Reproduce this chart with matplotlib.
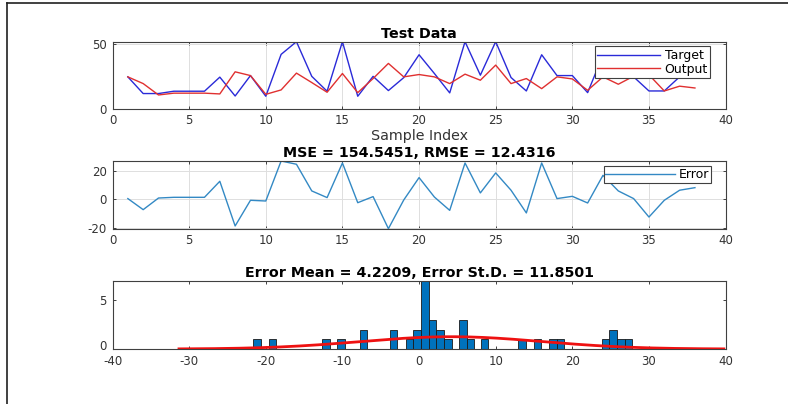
import numpy as np
import matplotlib
matplotlib.use("Agg")
import matplotlib.pyplot as plt
from matplotlib.lines import Line2D
from matplotlib.transforms import ScaledTranslation

plt.rcParams['font.family'] = ['DejaVu Sans']
plt.rcParams['axes.unicode_minus'] = False

# values
sample_idx = np.arange(1, 39)
target = [24.6, 11.7, 11.7, 13.5, 13.5, 13.5, 24.4, 9.8, 25.6, 9.6,
          42.0, 51.8, 25.0, 13.5, 51.8, 9.6, 25.0, 14.0, 24.0, 41.7,
          27.2, 12.2, 51.8, 25.9, 51.8, 24.1, 13.7, 41.7, 25.6, 25.6,
          12.4, 41.5, 25.4, 24.6, 13.7, 13.7, 24.6, 24.2]
output = [24.6, 19.4, 10.6, 12.0, 12.0, 12.0, 11.4, 28.5, 25.6, 11.1,
          14.5, 27.5, 20.2, 12.7, 27.2, 12.4, 23.3, 35.0, 24.6, 26.4,
          24.6, 19.4, 26.7, 22.0, 33.7, 19.4, 23.3, 15.5, 24.6, 23.0,
          14.2, 24.6, 18.9, 25.1, 26.2, 13.7, 17.4, 16.0]
error = [0.5, -7.3, 0.9, 1.4, 1.4, 1.4, 12.7, -18.8, -0.7, -1.2,
         27.0, 24.7, 5.9, 1.2, 25.6, -2.4, 1.9, -20.7, -0.5, 15.3,
         1.6, -7.8, 25.6, 4.5, 18.6, 6.4, -9.6, 25.6, 0.5, 2.1,
         -2.6, 16.9, 5.9, 0.5, -12.5, -0.7, 6.4, 8.2]

mse_val = 154.5451
rmse_val = 12.4316
err_mean = 4.2209
err_std = 11.8501

# histogram bins (centres and counts) as seen in the picture
hist_centers = [-21.15, -19.1, -12.15, -10.2, -7.26, -3.33, -1.24, -0.24,
                0.76, 1.76, 2.76, 3.76, 5.7, 6.7, 8.54, 13.46, 15.46,
                17.46, 18.46, 24.33, 25.33, 26.33, 27.33]
hist_counts = [1, 1, 1, 1, 2, 2, 1, 2, 7, 3, 2, 1, 3, 1, 1, 1, 1, 1, 1, 1, 2, 1, 1]
bin_width = 0.99

axis_col = '#404040'
tick_col = '#333333'


def style_axes(ax, grid=True):
    for s in ax.spines.values():
        s.set_color(axis_col)
        s.set_linewidth(0.8)
    ax.tick_params(direction='in', top=True, right=True, length=2.5, width=0.7,
                   colors=axis_col, labelcolor=tick_col, labelsize=8.5, pad=4)
    if grid:
        ax.grid(True, color='#dedede', linewidth=0.7)
        ax.set_axisbelow(True)


fig = plt.figure(figsize=(7.88, 4.04), dpi=100)

# outer frame of the screenshot (left and top only)
fig.add_artist(Line2D([7.3 / 788, 1.0], [1 - 2.7 / 404, 1 - 2.7 / 404],
                      transform=fig.transFigure, color='#202020', linewidth=1.2))
fig.add_artist(Line2D([7.3 / 788, 7.3 / 788], [0.0, 1 - 2.7 / 404],
                      transform=fig.transFigure, color='#202020', linewidth=1.2))

# Test data
ax1 = fig.add_axes([0.1428, 0.731, 0.778, 0.1658])
ax1.plot(sample_idx, target, color='#2a2ad8', linewidth=1.0, label='Target')
ax1.plot(sample_idx, output, color='#e03030', linewidth=1.0, label='Output')
ax1.set_xlim(0, 40)
ax1.set_ylim(0, max(target))
ax1.set_xticks(np.arange(0, 41, 5))
ax1.set_yticks([0, 50])
style_axes(ax1)
ax1.set_title('Test Data', fontsize=10.3, fontweight='bold', pad=3)
ax1.set_xlabel('Sample Index', fontsize=10.3, color=tick_col, labelpad=1)
leg = ax1.legend(loc='upper right', bbox_to_anchor=(0.975, 0.93), borderaxespad=0,
                 fontsize=9, fancybox=False, framealpha=1, edgecolor=axis_col,
                 handlelength=5.0, handletextpad=0.4, borderpad=0.2, labelspacing=0.05)
leg.get_frame().set_linewidth(0.8)

# Error
ax2 = fig.add_axes([0.1428, 0.434, 0.778, 0.1675])
ax2.plot(sample_idx, error, color='#3389c4', linewidth=1.0, label='Error')
ax2.set_xlim(0, 40)
ax2.set_ylim(min(error), max(error))
ax2.set_xticks(np.arange(0, 41, 5))
ax2.set_yticks([-20, 0, 20])
style_axes(ax2)
ax2.set_title(f'MSE = {mse_val:.4f}, RMSE = {rmse_val:.4f}',
              fontsize=10.3, fontweight='bold', pad=3)
leg2 = ax2.legend(loc='upper right', bbox_to_anchor=(0.977, 0.926), borderaxespad=0,
                  fontsize=9, fancybox=False, framealpha=1, edgecolor=axis_col,
                  handlelength=5.6, handletextpad=0.3, borderpad=0.15)
leg2.get_frame().set_linewidth(0.8)

# Error histogram with fitted normal
ax3 = fig.add_axes([0.1428, 0.1361, 0.778, 0.1683])
ax3.bar(hist_centers, hist_counts, width=bin_width, color='#0072BD',
        edgecolor='#1a1a1a', linewidth=0.6, zorder=2)
xs = np.linspace(err_mean - 3 * err_std, err_mean + 3 * err_std, 200)
ys = len(error) * bin_width * np.exp(-0.5 * ((xs - err_mean) / err_std) ** 2) / (err_std * np.sqrt(2 * np.pi))
ax3.plot(xs, ys, color='#ee1111', linewidth=2.0, zorder=3)
ax3.set_xlim(-40, 40)
ax3.set_ylim(0, max(hist_counts))
ax3.set_xticks(np.arange(-40, 41, 10))
ax3.set_yticks([0, 5])
style_axes(ax3, grid=False)
ax3.set_title(f'Error Mean = {err_mean:.4f}, Error St.D. = {err_std:.4f}',
              fontsize=10.3, fontweight='bold', pad=3)
# lift the "0" y label a little so it clears the "-40" below it
zero_lbl = ax3.get_yticklabels()[0]
zero_lbl.set_transform(zero_lbl.get_transform() + ScaledTranslation(0, 3 / 72, fig.dpi_scale_trans))

fig.savefig('out.png', dpi=100)
